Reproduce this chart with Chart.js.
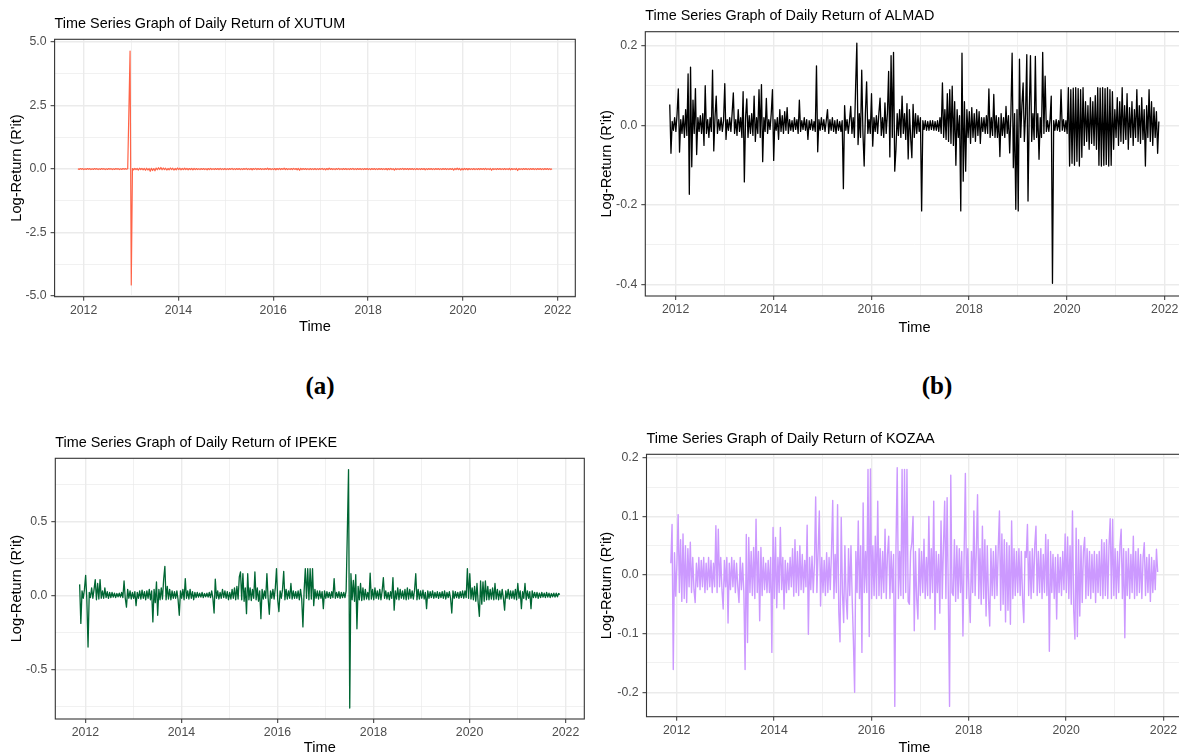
<!DOCTYPE html>
<html><head><meta charset="utf-8">
<script src="https://cdn.jsdelivr.net/npm/chart.js@4/dist/chart.umd.min.js"></script>
<style>
html,body{margin:0;padding:0;width:1179px;height:756px;overflow:hidden;background:#fff;}
canvas{position:absolute;}
.lab{position:absolute;font-family:'Liberation Serif','Times New Roman',serif;font-weight:bold;font-size:25px;color:#000;transform:translate(-50%,-50%);white-space:nowrap;}
</style></head><body>
<canvas id="cA"></canvas>
<canvas id="cB"></canvas>
<canvas id="cC"></canvas>
<canvas id="cD"></canvas>
<div class="lab" style="left:320px;top:386px">(a)</div>
<div class="lab" style="left:937px;top:386px">(b)</div>
<script>
// ---------- data ----------
const firstDate = 2011.88;   // first trading day (decimal year)
const lastDate = 2021.88;    // last trading day (decimal year)

const xMajorTicks = [2012, 2014, 2016, 2018, 2020, 2022];
const xMinorTicks = [2013, 2015, 2017, 2019, 2021];

const yMajorXUTUM = [-5, -2.5, 0, 2.5, 5];
const yMinorXUTUM = [-3.75, -1.25, 1.25, 3.75];
const yMajorALMAD = [-0.4, -0.2, 0, 0.2];
const yMinorALMAD = [-0.3, -0.1, 0.1];
const yMajorIPEKE = [-0.5, 0, 0.5];
const yMinorIPEKE = [-0.75, -0.25, 0.25, 0.75];
const yMajorKOZAA = [-0.2, -0.1, 0, 0.1, 0.2];
const yMinorKOZAA = [-0.15, -0.05, 0.05, 0.15];

const xutumReturns = [
0.01,-0.015,0.02,-0.01,0.015,-0.02,0.01,-0.015,0.02,-0.01,0.015,-0.02,0.01,-0.015,0.02,-0.01,0.015,-0.02,0.01,-0.015,
0.02,-0.01,0.015,-0.02,0.01,-0.015,0.02,-0.01,0.015,-0.02,0.01,-0.015,0.02,-0.01,0.015,-0.02,0.01,-0.015,0.02,-0.01,
0.015,-0.01,0.01,2.3,4.65,-4.57,0.02,-0.03,0.025,-0.02,0.02,-0.04,0.03,-0.02,0.025,-0.03,0.02,-0.05,0.03,-0.04,
0.02,-0.09,0.03,-0.06,0.02,-0.07,0.04,-0.03,0.05,-0.02,0.06,-0.03,0.04,-0.02,0.03,-0.04,0.02,-0.03,0.04,-0.02,
0.03,-0.04,0.02,-0.03,0.04,-0.02,0.03,-0.03,0.02,-0.025,0.03,-0.02,0.025,-0.03,0.02,-0.02,0.025,-0.03,0.02,-0.025,
0.02,-0.02,0.015,-0.025,0.02,-0.015,0.02,-0.02,0.015,-0.03,0.02,-0.02,0.025,-0.02,0.015,-0.02,0.02,-0.015,0.02,-0.02,
0.025,-0.02,0.015,-0.02,0.02,-0.025,0.015,-0.02,0.02,-0.015,0.025,-0.02,0.015,-0.02,0.02,-0.015,0.02,-0.025,0.015,-0.02,
0.02,-0.015,0.025,-0.02,0.015,-0.02,0.02,-0.03,0.02,-0.015,0.025,-0.02,0.02,-0.015,0.02,-0.02,0.015,-0.02,0.02,-0.015,
0.03,-0.02,0.02,-0.025,0.015,-0.02,0.02,-0.03,0.02,-0.02,0.025,-0.02,0.02,-0.015,0.03,-0.02,0.02,-0.025,0.015,-0.02,
0.02,-0.02,0.025,-0.015,0.02,-0.03,0.02,-0.05,0.025,-0.02,0.02,-0.015,0.02,-0.02,0.015,-0.025,0.02,-0.02,0.015,-0.02,
0.02,-0.025,0.015,-0.02,0.02,-0.015,0.025,-0.02,0.015,-0.03,0.02,-0.02,0.03,-0.015,0.02,-0.02,0.015,-0.025,0.02,-0.015,
0.025,-0.02,0.015,-0.02,0.02,-0.015,0.02,-0.02,0.015,-0.02,0.02,-0.015,0.025,-0.02,0.015,-0.02,0.02,-0.015,0.02,-0.02,
0.015,-0.02,0.02,-0.015,0.02,-0.02,0.015,-0.025,0.02,-0.015,0.02,-0.02,0.015,-0.02,0.02,-0.015,0.02,-0.02,0.015,-0.02,
0.02,-0.03,0.02,-0.02,0.025,-0.02,0.015,-0.04,0.02,-0.02,0.015,-0.02,0.02,-0.015,0.025,-0.02,0.02,-0.015,0.02,-0.02,
0.02,-0.015,0.02,-0.02,0.015,-0.025,0.02,-0.02,0.015,-0.02,0.02,-0.015,0.02,-0.03,0.015,-0.02,0.02,-0.015,0.02,-0.02,
0.015,-0.02,0.02,-0.015,0.02,-0.02,0.015,-0.02,0.02,-0.015,0.02,-0.02,0.015,-0.02,0.02,-0.015,0.02,-0.04,0.02,-0.02,
0.03,-0.02,0.02,-0.04,0.02,-0.03,0.025,-0.02,0.02,-0.03,0.02,-0.02,0.015,-0.02,0.02,-0.025,0.015,-0.02,0.02,-0.02,
0.02,-0.015,0.02,-0.02,0.025,-0.02,0.015,-0.02,0.02,-0.05,0.02,-0.02,0.015,-0.02,0.02,-0.015,0.02,-0.02,0.015,-0.02,
0.02,-0.02,0.015,-0.02,0.025,-0.03,0.02,-0.02,0.015,-0.02,0.02,-0.06,0.02,-0.02,0.015,-0.02,0.02,-0.015,0.02,-0.02,
0.015,-0.02,0.02,-0.015,0.02,-0.02,0.015,-0.02,0.02,-0.015,0.02,-0.02,0.015,-0.02,0.02,-0.015,0.02,-0.02,0.015,-0.02,
0.01];

const almadReturns = [
0.053,-0.07,0.01,-0.012,0.02,-0.015,0.03,0.092,-0.067,0.015,-0.02,0.025,-0.03,0.04,-0.025,0.13,-0.173,0.147,-0.104,0.064,
-0.02,0.093,-0.073,0.02,-0.015,0.025,-0.02,0.03,-0.05,0.1,-0.02,0.015,-0.03,0.02,-0.015,0.139,-0.064,0.02,0.074,-0.02,
0.015,-0.012,0.02,-0.015,0.012,0.105,-0.035,0.015,-0.012,0.02,-0.015,0.03,0.082,-0.02,0.015,-0.025,0.04,-0.015,0.02,-0.03,
0.085,-0.142,0.02,0.067,-0.03,0.025,-0.02,0.03,-0.025,0.074,-0.04,0.02,-0.02,0.09,-0.03,0.103,-0.091,0.02,-0.015,0.068,
-0.02,0.015,-0.01,0.03,0.09,-0.088,0.015,-0.012,0.02,-0.035,0.04,-0.015,0.025,-0.02,0.035,-0.012,0.045,-0.02,0.015,-0.012,
0.012,-0.015,0.02,-0.01,0.015,-0.02,0.064,-0.015,0.012,-0.01,0.02,-0.012,0.015,-0.035,0.012,-0.01,0.015,-0.012,0.01,-0.015,
0.15,-0.066,0.015,-0.012,0.02,-0.01,0.015,-0.015,0.012,0.04,-0.02,0.015,-0.012,0.02,-0.015,0.012,-0.02,0.015,-0.012,0.01,
-0.015,0.012,-0.159,0.05,-0.012,0.015,-0.02,0.012,0.048,-0.02,0.02,-0.03,0.097,0.207,-0.048,0.03,-0.03,0.139,-0.02,-0.102,
0.03,0.11,-0.02,0.015,-0.02,0.08,-0.052,0.02,-0.015,0.025,-0.02,0.03,0.069,-0.025,0.02,-0.03,0.057,-0.02,0.03,0.136,
-0.079,0.176,-0.03,0.184,-0.115,-0.06,0.03,-0.025,0.04,-0.03,0.074,-0.02,0.03,-0.035,0.055,-0.084,0.04,-0.03,-0.081,0.053,
-0.03,0.03,-0.02,0.025,-0.015,0.02,-0.215,0.012,-0.01,0.012,-0.012,0.01,-0.012,0.012,-0.01,0.012,-0.012,0.01,-0.012,0.012,
-0.015,0.02,-0.02,0.107,-0.03,0.04,-0.035,0.08,-0.04,0.09,-0.045,0.099,-0.05,0.06,-0.1,0.04,-0.03,0.025,-0.215,0.182,
-0.14,0.06,-0.115,0.04,-0.03,0.035,-0.045,0.045,-0.03,0.03,-0.04,0.04,-0.025,0.035,-0.045,0.02,-0.015,0.02,-0.02,0.025,
-0.02,0.092,-0.03,0.02,-0.025,0.078,-0.03,0.025,-0.03,0.02,-0.078,0.03,-0.025,0.02,-0.03,0.048,-0.02,0.025,-0.069,0.03,
0.182,-0.106,0.03,-0.211,0.04,-0.215,0.167,-0.03,0.05,0.107,-0.04,0.03,0.178,-0.19,0.03,0.176,-0.04,0.03,-0.035,0.174,
-0.03,0.03,-0.085,0.02,-0.03,0.184,-0.02,0.124,-0.015,0.012,-0.015,0.015,0.074,-0.397,0.012,-0.012,0.015,-0.012,0.012,-0.015,
0.09,-0.012,0.015,-0.015,0.012,-0.02,0.095,-0.102,0.09,-0.095,0.094,-0.1,0.095,-0.09,0.093,-0.102,0.09,-0.08,0.095,-0.05,
0.06,-0.04,0.05,-0.06,0.07,-0.045,0.06,-0.05,0.075,-0.06,0.095,-0.1,0.094,-0.102,0.095,-0.1,0.093,-0.098,0.095,-0.102,
0.09,-0.1,0.085,-0.06,0.04,-0.03,0.07,-0.05,0.06,-0.04,0.095,-0.045,0.05,-0.035,0.08,-0.06,0.045,-0.03,0.06,-0.05,
0.04,-0.03,0.09,-0.04,0.05,-0.045,0.07,-0.035,0.04,-0.102,0.05,-0.03,0.09,-0.04,0.06,-0.05,0.045,-0.03,0.035,-0.07,
0.01];

const ipekeReturns = [
0.074,-0.19,0.03,-0.02,0.04,0.135,-0.03,-0.35,0.02,-0.015,0.05,-0.02,0.04,0.106,-0.03,0.08,-0.025,0.106,-0.02,0.03,
-0.02,0.05,-0.015,0.025,-0.02,0.02,-0.015,0.02,-0.012,0.015,-0.015,0.012,-0.01,0.015,-0.012,0.02,-0.015,0.097,-0.02,-0.08,
0.04,-0.02,0.03,-0.025,0.02,-0.02,0.025,-0.07,0.02,-0.02,0.03,-0.025,0.035,-0.02,0.025,-0.03,0.03,-0.02,0.04,-0.03,
0.03,-0.18,0.04,-0.05,0.09,-0.135,0.04,-0.03,0.05,-0.025,0.11,0.196,-0.03,0.06,-0.025,0.04,-0.03,0.03,-0.02,0.025,
-0.02,0.03,-0.03,-0.135,0.03,-0.02,0.04,-0.03,0.113,-0.02,0.03,-0.025,0.04,-0.02,0.025,-0.03,0.02,-0.015,0.02,-0.012,
0.015,-0.012,0.02,-0.015,0.012,-0.01,0.015,-0.012,0.02,-0.015,0.03,-0.02,-0.12,0.11,-0.02,0.03,-0.025,0.02,-0.02,0.04,
-0.015,0.03,-0.02,0.025,-0.03,0.02,-0.025,0.04,-0.02,0.05,-0.03,0.06,-0.025,0.124,0.158,-0.03,0.147,-0.04,0.05,-0.124,
0.146,-0.03,0.05,-0.035,0.04,-0.02,0.158,-0.03,0.05,-0.04,0.03,-0.158,0.04,-0.025,0.03,-0.02,0.147,-0.02,-0.128,0.03,
-0.02,0.04,-0.025,0.05,0.181,-0.03,-0.11,0.03,-0.02,0.04,0.162,-0.03,0.04,-0.025,0.03,-0.02,0.08,-0.025,0.03,-0.02,
0.025,-0.02,0.03,-0.03,0.04,-0.025,-0.214,0.03,0.181,-0.02,0.181,-0.03,0.181,-0.025,0.181,-0.07,0.04,-0.02,0.03,-0.025,
0.03,-0.02,0.025,-0.09,0.03,-0.02,0.025,-0.015,0.02,-0.02,0.025,-0.015,0.113,-0.02,0.02,-0.015,0.025,-0.02,0.02,-0.015,
0.02,-0.015,0.03,0.43,0.85,-0.762,0.146,-0.03,0.1,-0.04,0.14,-0.226,0.06,-0.03,0.08,-0.035,0.05,-0.03,0.04,-0.025,
0.02,-0.03,0.15,-0.025,0.04,-0.03,0.05,-0.02,0.03,-0.025,0.04,-0.03,0.03,0.12,-0.02,0.03,-0.025,0.02,-0.03,0.025,
-0.02,0.12,-0.1,0.03,-0.025,0.05,-0.03,0.04,-0.02,0.03,-0.025,0.04,-0.03,0.05,-0.025,0.04,-0.02,0.03,-0.025,0.035,
0.146,-0.03,0.04,-0.025,0.03,-0.02,0.035,-0.025,0.02,-0.09,0.03,-0.02,0.025,-0.015,0.03,-0.02,0.02,-0.015,0.025,-0.02,
0.02,-0.015,0.025,-0.02,0.03,-0.025,0.02,-0.015,0.025,-0.02,-0.12,0.03,-0.02,0.025,-0.015,0.02,-0.02,0.025,-0.015,0.03,
-0.02,0.03,-0.015,0.181,-0.02,0.146,-0.025,0.05,-0.03,0.06,-0.04,0.08,-0.05,-0.142,0.097,-0.06,0.09,-0.04,0.097,-0.03,
0.06,-0.03,0.04,-0.025,0.05,-0.03,0.08,-0.025,0.04,-0.03,0.03,-0.025,0.04,-0.02,-0.1,0.03,-0.02,0.04,-0.025,0.03,
-0.02,0.03,-0.025,0.04,-0.03,0.08,-0.02,0.03,-0.09,0.025,-0.02,0.08,-0.03,0.03,-0.02,0.025,-0.09,0.03,-0.015,0.02,
-0.015,0.02,-0.02,0.015,-0.015,0.02,-0.012,0.015,-0.015,0.02,-0.012,0.015,-0.015,0.012,-0.01,0.015,-0.012,0.015,-0.01,0.012,
0.005];

const kozaaReturns = [
0.02,0.086,-0.161,0.038,-0.036,0.02,0.103,-0.03,0.06,-0.045,0.07,-0.04,0.05,-0.047,0.045,-0.02,0.056,-0.03,0.03,-0.025,
-0.047,0.02,-0.02,0.03,-0.025,0.025,-0.02,0.03,-0.03,0.02,-0.025,0.03,-0.02,0.025,-0.03,0.02,-0.02,0.084,-0.03,0.078,
-0.02,0.03,-0.025,-0.058,0.025,-0.02,0.03,-0.082,0.02,-0.025,0.03,-0.02,0.025,-0.03,0.02,-0.02,-0.047,0.03,-0.025,0.02,
-0.03,-0.161,0.069,-0.115,0.064,-0.03,0.04,-0.035,0.047,-0.04,0.095,-0.03,0.04,-0.078,0.047,-0.035,0.03,-0.025,0.02,-0.03,
0.025,-0.03,0.03,-0.132,0.081,-0.04,0.064,-0.056,0.03,-0.03,0.081,-0.025,0.03,-0.058,0.025,-0.03,0.02,-0.025,0.03,-0.02,
0.045,-0.036,0.06,-0.03,0.04,-0.035,0.05,-0.025,0.035,-0.03,0.025,-0.02,0.085,-0.101,0.03,-0.025,0.032,-0.03,0.02,0.133,
-0.03,0.04,0.109,-0.053,0.03,-0.03,0.025,-0.035,0.038,-0.03,0.03,-0.025,0.04,0.127,-0.04,0.035,-0.03,0.12,-0.063,-0.114,
0.098,-0.03,-0.081,0.05,-0.04,-0.075,0.045,-0.035,0.05,-0.04,-0.112,-0.2,0.04,-0.03,0.092,-0.04,0.05,-0.132,0.123,-0.03,
0.04,-0.03,0.18,-0.105,0.181,-0.04,0.05,-0.035,0.066,-0.04,0.126,-0.035,0.045,-0.04,0.04,-0.03,0.078,-0.04,0.035,0.066,
-0.04,0.04,-0.03,0.035,-0.224,0.05,0.183,-0.04,0.04,-0.035,0.18,-0.04,0.18,-0.03,0.18,-0.045,-0.05,0.04,0.055,0.1,
-0.095,0.04,-0.04,-0.075,0.045,-0.035,0.04,-0.03,0.061,-0.04,0.03,-0.035,0.1,-0.04,0.045,-0.03,0.126,-0.093,0.04,-0.03,
0.035,-0.065,0.092,-0.04,0.05,0.126,-0.04,0.132,-0.035,-0.224,0.17,-0.03,-0.035,0.06,-0.045,0.05,-0.04,0.045,-0.03,0.04,
-0.104,0.04,0.173,-0.04,0.045,-0.035,-0.081,0.04,-0.03,0.109,-0.035,0.04,0.137,-0.04,0.045,-0.05,0.083,-0.04,0.06,-0.07,
0.05,-0.04,-0.087,0.045,-0.035,0.04,-0.04,0.05,-0.035,0.045,0.109,-0.06,0.07,-0.05,0.06,-0.08,0.055,-0.06,0.05,-0.084,
0.092,-0.04,0.045,-0.035,0.04,-0.03,0.045,-0.035,0.04,-0.04,-0.081,0.04,0.03,0.086,-0.035,0.04,-0.04,0.045,-0.03,0.05,
0.083,-0.035,0.04,-0.03,0.045,-0.04,0.035,-0.03,0.069,-0.035,0.06,-0.13,0.04,-0.03,0.035,-0.04,0.03,-0.075,0.035,-0.03,
0.03,-0.035,0.04,-0.025,0.07,-0.03,0.065,-0.04,0.05,-0.05,0.109,-0.06,-0.109,0.08,-0.105,0.06,-0.07,0.05,-0.047,0.04,
0.064,-0.04,0.045,-0.035,0.04,-0.04,0.035,-0.03,0.04,-0.047,0.035,-0.03,0.04,-0.035,0.06,-0.04,0.055,-0.035,0.06,-0.04,
0.05,0.096,-0.04,0.095,-0.035,0.045,-0.04,0.04,-0.03,0.05,0.078,-0.04,0.045,-0.107,0.04,-0.035,0.045,-0.04,0.035,-0.03,
0.066,-0.04,0.04,-0.035,0.045,-0.03,0.035,-0.04,0.03,0.055,-0.035,0.03,-0.03,0.035,-0.045,0.03,-0.03,0.025,-0.025,0.044,
0.005];

// ---------- drawing ----------
const FONT = "'Liberation Sans', Arial, sans-serif";
const framePlugin = {
  id: 'panelFrame',
  afterDraw(chart) {
    const a = chart.chartArea, ctx = chart.ctx;
    ctx.save();
    ctx.strokeStyle = '#333333';
    ctx.lineWidth = 1.1;
    ctx.strokeRect(a.left, a.top, a.right - a.left, a.bottom - a.top);
    ctx.restore();
  }
};

function near(list, v) { return list.some(m => Math.abs(m - v) < 1e-9); }

function makePanel(p) {
  const titleSize = 14.4, axisSize = 14.6, tickSize = 12.3;
  const lhT = titleSize * 1.2, lhA = axisSize * 1.2;
  const el = document.getElementById(p.id);
  el.width = p.cw; el.height = p.ch;
  el.style.left = p.cx + 'px'; el.style.top = p.cy + 'px';
  el.style.width = p.cw + 'px'; el.style.height = p.ch + 'px';
  const f = p.frame;
  const yScaleLeft = p.yTitleX - lhA / 2;
  const yAxisWidth = f.L - yScaleLeft;
  const xAxisHeight = p.xTitleY + lhA / 2 - f.B;
  const titleTop = p.titleY - lhT / 2;
  const step = (lastDate - firstDate) / (p.values.length - 1);
  const pts = p.values.map((v, i) => ({ x: firstDate + i * step, y: v }));
  const allX = [...xMajorTicks, ...xMinorTicks].sort((a, b) => a - b);
  const allY = [...p.yMajor, ...p.yMinor].sort((a, b) => a - b);
  const gridOpts = major => ({
    color: '#EBEBEB',
    lineWidth: c => (c.tick && near(major, c.tick.value)) ? 1.4 : 0.7,
    tickColor: c => (c.tick && near(major, c.tick.value)) ? '#333333' : 'rgba(0,0,0,0)',
    tickLength: 4,
    tickWidth: 1,
    drawTicks: true
  });
  new Chart(el, {
    type: 'line',
    data: { datasets: [{ data: pts, borderColor: p.color, borderWidth: p.lw, pointRadius: 0, tension: 0,
      borderJoinStyle: 'round', fill: false }] },
    options: {
      responsive: false, animation: false, devicePixelRatio: 1, events: [],
      layout: { padding: { left: yScaleLeft - p.cx, top: titleTop - p.cy,
        right: p.cx + p.cw - f.R, bottom: p.cy + p.ch - (p.xTitleY + lhA / 2) } },
      plugins: {
        legend: { display: false }, tooltip: { enabled: false },
        title: { display: true, text: p.title, align: 'start', fullSize: false, color: '#000000',
          font: { family: FONT, size: titleSize, weight: 'normal', lineHeight: 1.2 },
          padding: { top: 0, bottom: f.T - (titleTop + lhT) } }
      },
      scales: {
        x: {
          type: 'linear', min: p.xMin, max: p.xMax, bounds: 'data',
          afterBuildTicks: s => { s.ticks = allX.map(v => ({ value: v })); },
          afterFit: s => { s.height = xAxisHeight; },
          grid: gridOpts(xMajorTicks), border: { display: false },
          ticks: { autoSkip: false, maxRotation: 0, minRotation: 0, padding: 2.3, color: '#4D4D4D',
            font: { family: FONT, size: tickSize, lineHeight: 1.2 },
            callback: v => near(xMajorTicks, v) ? String(Math.round(v)) : '' },
          title: { display: true, text: 'Time', color: '#000000',
            font: { family: FONT, size: axisSize, lineHeight: 1.2 }, padding: { top: 0, bottom: 0 } }
        },
        y: {
          type: 'linear', min: p.yMin, max: p.yMax, bounds: 'data',
          afterBuildTicks: s => { s.ticks = allY.map(v => ({ value: v })); },
          afterFit: s => { s.width = yAxisWidth; },
          grid: gridOpts(p.yMajor), border: { display: false },
          ticks: { autoSkip: false, padding: 4, color: '#4D4D4D',
            font: { family: FONT, size: tickSize, lineHeight: 1.2 },
            callback: v => near(p.yMajor, v) ? Number(v).toFixed(1) : '' },
          title: { display: true, text: "Log-Return (R'it)", color: '#000000',
            font: { family: FONT, size: axisSize, lineHeight: 1.2 }, padding: { top: 0, bottom: 0 } }
        }
      }
    },
    plugins: [framePlugin]
  });
}

makePanel({ id: 'cA', cx: 0, cy: 0, cw: 590, ch: 345,
  frame: { L: 54.6, T: 39.3, R: 575.3, B: 296.7 }, titleY: 24.2, yTitleX: 17, xTitleY: 327.2,
  xMin: 2011.388, xMax: 2022.371, yMin: -5.03, yMax: 5.11, lw: 1.2,
  yMajor: yMajorXUTUM, yMinor: yMinorXUTUM, values: xutumReturns, color: '#FF6347',
  title: 'Time Series Graph of Daily Return of XUTUM' });

makePanel({ id: 'cB', cx: 590, cy: 0, cw: 600, ch: 345,
  frame: { L: 645.3, T: 31.7, R: 1183.8, B: 296 }, titleY: 15.9, yTitleX: 607, xTitleY: 328.2,
  xMin: 2011.38, xMax: 2022.39, yMin: -0.429, yMax: 0.236, lw: 1.3,
  yMajor: yMajorALMAD, yMinor: yMinorALMAD, values: almadReturns, color: '#000000',
  title: 'Time Series Graph of Daily Return of ALMAD' });

makePanel({ id: 'cC', cx: 0, cy: 420, cw: 590, ch: 345,
  frame: { L: 55.3, T: 458.3, R: 584.3, B: 719 }, titleY: 443.2, yTitleX: 17, xTitleY: 748.2,
  xMin: 2011.373, xMax: 2022.39, yMin: -0.836, yMax: 0.926, lw: 1.3,
  yMajor: yMajorIPEKE, yMinor: yMinorIPEKE, values: ipekeReturns, color: '#006633',
  title: 'Time Series Graph of Daily Return of IPEKE' });

makePanel({ id: 'cD', cx: 590, cy: 420, cw: 600, ch: 345,
  frame: { L: 646.5, T: 454.3, R: 1182.5, B: 716.7 }, titleY: 439.5, yTitleX: 607, xTitleY: 748,
  xMin: 2011.38, xMax: 2022.39, yMin: -0.2416, yMax: 0.2058, lw: 1.4,
  yMajor: yMajorKOZAA, yMinor: yMinorKOZAA, values: kozaaReturns, color: '#CC99FF',
  title: 'Time Series Graph of Daily Return of KOZAA' });
</script>
</body></html>
